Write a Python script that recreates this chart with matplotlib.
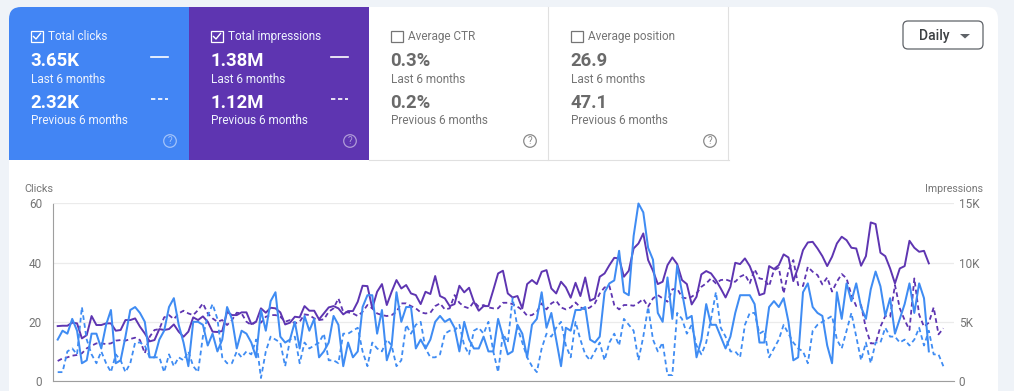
import matplotlib
matplotlib.use("Agg")
import matplotlib.pyplot as plt
from matplotlib.patches import Rectangle, FancyBboxPatch, Circle, Polygon

plt.rcParams['font.family'] = ['Roboto', 'DejaVu Sans']

clicks_last = [14,17,16,21,17,6,7,16,16,11,19,24,6,7,15,24,25,23,20,8,8,14,17,25,28,19,13,5,20,20,19,12,16,10,14,25,21,11,17,16,13,8,
    24,17,27,30,15,13,14,20,11,22,17,21,8,10,13,22,19,5,13,8,10,25,29,29,16,24,7,12,30,20,25,25,11,14,11,14,20,22,20,21,18,10,20,14,11,11,15,10,10,21,
    15,9,10,19,16,8,19,21,30,18,23,14,5,18,17,24,24,25,14,13,15,30,33,34,44,30,29,49,60,57,45,41,23,20,35,21,39,30,21,22,8,14,26,19,19,15,11,15,23,29,
    29,29,26,13,13,25,27,25,28,20,7,8,30,33,25,23,22,12,6,30,21,33,27,33,25,21,31,37,32,22,28,16,21,26,33,23,33,28,10]

clicks_prev = [3,3,10,11,9,25,14,9,6,10,6,3,9,7,3,6,13,13,12,8,8,8,3,9,5,8,7,10,5,3,15,22,26,21,8,6,6,10,8,10,9,14,
    1,10,15,14,13,5,14,15,6,13,11,12,13,16,7,7,6,16,16,17,18,10,5,13,11,10,14,12,5,7,19,16,19,20,11,8,8,9,16,17,17,19,12,9,17,18,16,20,10,3,
    16,13,28,18,13,8,5,3,11,16,15,18,20,12,8,20,14,9,7,10,13,7,13,16,12,21,19,17,7,15,25,14,10,13,2,2,23,21,16,19,12,9,13,21,30,18,15,10,10,8,
    19,23,23,16,17,8,11,14,19,16,13,11,10,6,17,19,20,21,22,14,11,17,23,15,7,13,6,13,13,18,15,15,13,14,12,14,18,12,17,9,9,5]

# impressions in thousands
impr_last = [4.64,4.67,4.67,4.93,4.87,3.60,3.88,5.49,4.73,4.73,4.87,4.87,4.25,4.31,5.15,5.15,5.29,4.59,4.02,3.35,3.46,4.39,4.31,4.39,4.78,4.17,3.74,4.17,5.38,5.15,5.46,5.01,4.17,4.14,4.22,5.85,5.57,5.57,5.80,5.80,4.81,5.01,
    6.14,5.77,6.19,6.14,5.80,4.78,4.93,5.43,5.38,6.33,5.94,5.94,5.21,5.71,6.22,6.33,6.14,5.63,5.91,5.91,6.70,8.05,8.02,6.14,7.54,8.19,6.42,7.54,8.53,7.82,8.11,7.40,7.26,6.50,7.54,7.35,8.87,7.18,6.98,6.33,6.50,8.05,7.49,7.88,6.70,5.94,6.33,6.33,7.68,9.09,
    9.32,7.40,7.06,7.18,6.14,8.19,8.53,8.19,9.23,9.37,7.82,7.40,8.39,7.91,7.04,8.30,7.18,8.75,6.78,6.98,8.81,9.09,9.79,10.41,10.36,8.81,9.32,11.2,11.62,12.47,10.22,9.32,8.19,8.39,9.79,10.44,9.88,8.53,8.19,6.47,7.12,9.01,9.29,9.09,8.53,7.82,7.06,7.96,9.99,9.88,
    10.36,9.71,8.67,7.26,7.40,9.71,9.46,9.79,10.7,10.44,8.44,9.6,11.06,11.71,11.76,11.2,10.55,9.71,10.5,11.62,12.19,11.9,11.26,11.2,9.74,10.55,13.4,13.26,10.84,10.55,9.51,8.25,9.51,9.71,11.85,11.26,10.92,11.0,9.94]

impr_prev = [1.69,1.91,2.0,2.14,2.2,2.34,2.76,2.98,3.18,3.18,3.12,3.18,3.41,3.46,3.41,3.55,3.66,3.46,2.34,3.74,4.31,4.39,5.38,5.57,5.23,5.71,5.94,5.71,5.57,5.99,6.56,5.71,5.29,5.01,5.15,4.73,5.15,5.77,5.71,5.01,4.73,5.01,
    4.93,5.43,5.57,5.57,5.43,5.01,5.15,4.87,5.01,5.63,5.57,5.29,5.15,5.21,5.85,6.14,6.98,5.85,5.8,5.71,5.49,5.85,6.42,6.14,5.71,5.57,5.49,5.57,5.85,6.56,6.56,6.33,6.14,5.8,5.71,5.77,6.33,6.56,6.05,6.14,7.26,6.61,6.28,6.14,6.7,6.28,6.42,6.22,6.14,6.14,
    6.61,6.61,6.5,6.28,6.0,5.52,5.57,5.85,6.56,6.05,6.56,6.78,6.22,6.05,6.22,6.64,6.22,6.05,6.22,6.56,7.4,7.91,8.02,6.42,6.05,6.42,6.42,6.36,6.61,6.93,6.28,6.98,7.26,6.98,6.7,7.74,7.82,7.06,6.98,7.12,7.4,7.96,8.25,8.67,8.25,8.53,8.58,8.44,8.39,8.81,
    9.01,8.25,9.43,8.67,8.58,8.02,9.37,9.57,7.4,9.37,10.22,8.11,8.02,9.65,9.23,8.95,8.16,8.75,7.56,8.39,9.04,8.67,7.26,6.33,6.42,4.45,3.18,3.18,4.59,5.49,5.43,8.11,6.14,5.15,4.31,8.67,5.6,4.59,4.93,6.22,3.94,4.45]

clicks_ticks = [0, 20, 40, 60]
impr_ticks = [0, 5, 10, 15]
impr_labels = ['0', '5K', '10K', '15K']

tile_titles = ['Total clicks', 'Total impressions', 'Average CTR', 'Average position']
tile_last = ['3.65K', '1.38M', '0.3%', '26.9']
tile_prev = ['2.32K', '1.12M', '0.2%', '47.1']

BLUE = '#4285f4'
PURPLE = '#5e35b1'
LINE_BLUE = '#3f8cf3'
GREY = '#757575'

fig = plt.figure(figsize=(10.14, 3.91), dpi=100, facecolor='#eff3f8')

# page furniture, in pixel coordinates
bg = fig.add_axes([0, 0, 1, 1])
bg.set_xlim(0, 1014)
bg.set_ylim(391, 0)
bg.axis('off')

bg.add_patch(FancyBboxPatch((21, 19), 965, 420, boxstyle='round,pad=12,rounding_size=12', fc='white', ec='none'))
bg.add_patch(FancyBboxPatch((21, 19), 30, 30, boxstyle='round,pad=12,rounding_size=12', fc=BLUE, ec='none'))
bg.add_patch(Rectangle((9, 19), 180, 141, fc=BLUE, ec='none'))
bg.add_patch(Rectangle((21, 7), 168, 153, fc=BLUE, ec='none'))
bg.add_patch(Rectangle((189, 7), 180, 153, fc=PURPLE, ec='none'))
bg.plot([369, 729], [159.5, 159.5], color='#e0e0e0', lw=0.8)
bg.plot([548, 548], [7, 160], color='#e0e0e0', lw=0.8)
bg.plot([728, 728], [7, 160], color='#e0e0e0', lw=0.8)


def draw_tile(x0, i, active):
    main = 'white' if active else '#6a6a6a'
    small = '#eef3fe' if active else GREY
    box = x0 + 22
    bg.add_patch(Rectangle((box, 30.5), 11.5, 11.5, fc='none', ec='white' if active else GREY, lw=0.9))
    if active:
        bg.plot([box + 2.5, box + 5, box + 9.5], [36.5, 39, 33.5], color='white', lw=1.0)
    bg.text(box + 17.5, 36.5, tile_titles[i], color=small, fontsize=8.45, va='center')
    bg.text(box - 0.7, 61.5, tile_last[i], color=main, fontsize=13.3, fontweight='bold', va='center')
    bg.text(box, 79.8, 'Last 6 months', color=small, fontsize=8.5, va='center')
    bg.text(box - 0.7, 103.5, tile_prev[i], color=main, fontsize=13.3, fontweight='bold', va='center')
    bg.text(box, 120.8, 'Previous 6 months', color=small, fontsize=8.5, va='center')
    qcol = '#ffffff' if active else '#8a8a8a'
    bg.add_patch(Circle((x0 + 161, 141), 6.3, fc='none', ec=qcol, lw=0.9, alpha=0.5 if active else 1))
    bg.text(x0 + 161, 141.3, '?', color=qcol, alpha=0.5 if active else 1, fontsize=7.2, ha='center', va='center')
    if active:
        bg.plot([x0 + 142, x0 + 159], [57, 57], color='white', lw=1.2)
        bg.plot([x0 + 142, x0 + 159], [99, 99], color='white', lw=1.2, linestyle=(0, (2.6, 1.6)))


for n, x0 in enumerate([9, 189, 369, 549]):
    draw_tile(x0, n, n < 2)

bg.add_patch(FancyBboxPatch((908, 26), 70, 18, boxstyle='round,pad=5,rounding_size=5', fc='white', ec='#5f6368', lw=0.9))
bg.text(919, 36, 'Daily', color='#3c4043', fontsize=10, fontweight='medium', va='center')
bg.add_patch(Polygon([[960, 34], [970, 34], [965, 38.5]], fc='#5f6368', ec='none'))
bg.text(24, 188.5, 'Clicks', color=GREY, fontsize=7.8, va='center')
bg.text(983, 188.5, 'Impressions', color=GREY, fontsize=7.7, va='center', ha='right')

# the chart itself
ax = fig.add_axes([53 / 1014, 1 - 381 / 391, 901 / 1014, 177.5 / 391])
ax.set_zorder(3)
ax.patch.set_visible(False)
ax2 = ax.twinx()
ax2.set_zorder(2)

ax2.plot(range(len(impr_prev)), impr_prev, color=PURPLE, lw=1.3, linestyle=(0, (2.6, 1.8)), clip_on=False)
ax2.plot(range(len(impr_last)), impr_last, color=PURPLE, lw=1.4, clip_on=False)
ax.plot(range(len(clicks_prev)), clicks_prev, color=LINE_BLUE, lw=1.3, linestyle=(0, (2.6, 1.8)), clip_on=False)
ax.plot(range(len(clicks_last)), clicks_last, color=LINE_BLUE, lw=1.45, clip_on=False)

ax.set_xlim(-0.97, 185.2)
ax.set_ylim(0, 60)
ax2.set_ylim(0, 15)
ax.set_xticks([])
ax.set_yticks(clicks_ticks)
ax2.set_yticks(impr_ticks)
ax2.set_yticklabels(impr_labels)
ax.tick_params(axis='y', length=0, pad=8, labelsize=8.5, labelcolor=GREY)
ax2.tick_params(axis='y', length=0, pad=3.5, labelsize=8.5, labelcolor=GREY)
ax2.grid(axis='y', color='#ebebeb', lw=0.9)
ax2.set_axisbelow(True)

for a in (ax, ax2):
    for s in a.spines.values():
        s.set_visible(False)
ax.spines['left'].set_visible(True)
ax.spines['bottom'].set_visible(True)
ax.spines['left'].set_color('#9e9e9e')
ax.spines['bottom'].set_color('#9e9e9e')

fig.savefig('out.png', dpi=100, facecolor=fig.get_facecolor())
